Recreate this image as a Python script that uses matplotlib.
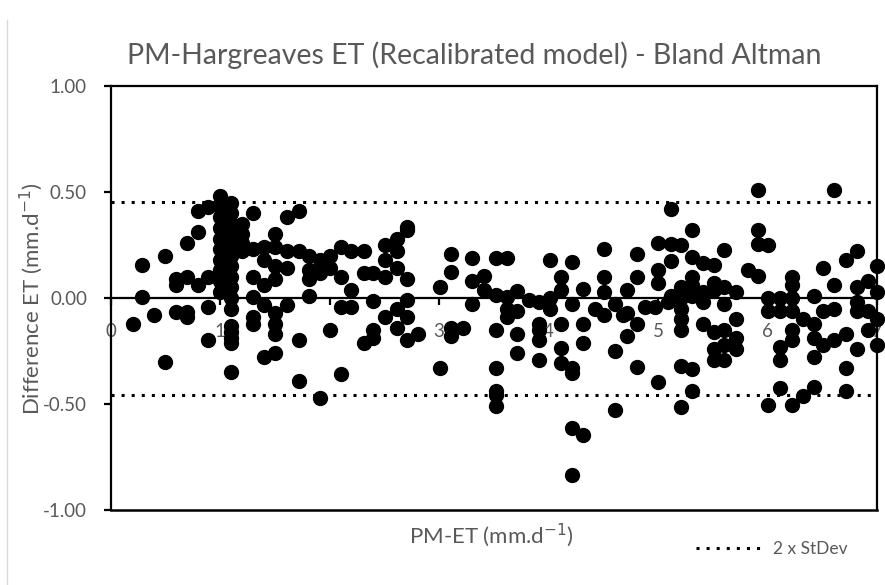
import matplotlib
matplotlib.use("Agg")
import matplotlib.pyplot as plt
from matplotlib.lines import Line2D

plt.rcParams['font.family'] = ['Lato', 'DejaVu Sans']

# ---- data: PM-ET (x) and difference ET (y), grouped by column ----
pm_et = [
    0.20,
    0.29, 0.29,
    0.40,
    0.50, 0.50,
    0.60, 0.60, 0.60,
    0.70, 0.70, 0.70, 0.70,
    0.80, 0.80, 0.80,
    0.89, 0.89, 0.89, 0.89,
    1.00, 1.00, 1.00, 1.00, 1.00, 1.00, 1.00, 1.00, 1.00, 1.00,
    1.10, 1.10, 1.10, 1.10, 1.10, 1.10, 1.10, 1.10, 1.10, 1.10, 1.10, 1.10, 1.10, 1.10, 1.10, 1.10,
    1.20, 1.20, 1.20, 1.20,
    1.30, 1.30, 1.30, 1.30, 1.30, 1.30,
    1.40, 1.40, 1.40, 1.40, 1.40,
    1.50, 1.50, 1.50, 1.50, 1.50, 1.50, 1.50, 1.50,
    1.61, 1.61, 1.61, 1.61,
    1.72, 1.72, 1.72, 1.72,
    1.81, 1.81, 1.81, 1.81,
    1.91, 1.91, 1.91,
    2.00, 2.00, 2.00,
    2.10, 2.10, 2.10, 2.10,
    2.20, 2.20, 2.20,
    2.31, 2.31, 2.31,
    2.40, 2.40, 2.40, 2.40,
    2.51, 2.51, 2.51, 2.51,
    2.62, 2.62, 2.62, 2.62, 2.62,
    2.71, 2.71, 2.71, 2.71, 2.71, 2.71,
    2.81,
    3.01, 3.01,
    3.11, 3.11, 3.11, 3.11,
    3.22,
    3.30, 3.30, 3.30,
    3.41, 3.41,
    3.52, 3.52, 3.52, 3.52, 3.52, 3.52, 3.52,
    3.62, 3.62, 3.62, 3.62,
    3.71, 3.71, 3.71, 3.71,
    3.82,
    3.91, 3.91, 3.91, 3.91, 3.91,
    4.01, 4.01, 4.01,
    4.11, 4.11, 4.11, 4.11, 4.11,
    4.21, 4.21, 4.21, 4.21, 4.21, 4.21,
    4.31, 4.31, 4.31, 4.31,
    4.42,
    4.51, 4.51, 4.51, 4.51,
    4.61, 4.61, 4.61,
    4.68,
    4.72, 4.72, 4.72,
    4.81, 4.81, 4.81, 4.81,
    4.88,
    4.97,
    5.00, 5.00, 5.00, 5.00,
    5.09,
    5.12, 5.12, 5.12, 5.12,
    5.21, 5.21, 5.21, 5.21, 5.21, 5.21, 5.21, 5.21, 5.21,
    5.31, 5.31, 5.31, 5.31, 5.31, 5.31, 5.31,
    5.41, 5.41, 5.41, 5.41,
    5.51, 5.51, 5.51, 5.51, 5.51, 5.51,
    5.60, 5.60, 5.60, 5.60, 5.60, 5.60,
    5.71, 5.71, 5.71, 5.71,
    5.82,
    5.91, 5.91, 5.91, 5.91,
    6.00, 6.00, 6.00, 6.00,
    6.11, 6.11, 6.11, 6.11, 6.11,
    6.22, 6.22, 6.22, 6.22, 6.22, 6.22, 6.22,
    6.32, 6.32,
    6.42, 6.42, 6.42, 6.42, 6.42,
    6.51, 6.51, 6.51,
    6.61, 6.61, 6.61, 6.61,
    6.72, 6.72, 6.72, 6.72,
    6.82, 6.82, 6.82, 6.82, 6.82,
    6.92, 6.92, 6.92,
    7.00, 7.00, 7.00, 7.00,
]
diff_et = [
    -0.12,
    0.155, 0.005,
    -0.08,
    0.20, -0.30,
    0.09, 0.06, -0.065,
    0.26, 0.10, -0.065, -0.09,
    0.41, 0.31, 0.06,
    0.43, 0.10, -0.04, -0.20,
    0.48, 0.43, 0.38, 0.33, 0.28, 0.23, 0.18, 0.13, 0.08, 0.03,
    0.45, 0.40, 0.35, 0.30, 0.25, 0.20, 0.15, 0.10, 0.05, 0.00, -0.05, -0.13, -0.16, -0.19, -0.21, -0.35,
    0.35, 0.30, 0.26, 0.22,
    0.40, 0.23, 0.10, 0.005, -0.09, -0.12,
    0.24, 0.18, 0.06, -0.035, -0.28,
    0.30, 0.24, 0.15, 0.09, -0.07, -0.12, -0.17, -0.26,
    0.38, 0.22, 0.14, -0.035,
    0.41, 0.22, -0.20, -0.39,
    0.20, 0.13, 0.09, 0.008,
    0.18, 0.12, -0.47,
    0.20, 0.14, -0.15,
    0.24, 0.10, -0.04, -0.36,
    0.22, 0.04, -0.04,
    0.22, 0.12, -0.21,
    0.12, -0.015, -0.15, -0.19,
    0.25, 0.18, 0.10, -0.09,
    0.28, 0.22, 0.14, -0.05, -0.14,
    0.335, 0.32, 0.09, -0.01, -0.09, -0.20,
    -0.17,
    0.05, -0.33,
    0.21, 0.125, -0.14, -0.18,
    -0.14,
    0.19, 0.08, -0.03,
    0.105, 0.04,
    0.19, 0.015, -0.15, -0.33, -0.44, -0.455, -0.51,
    0.19, 0.005, -0.05, -0.09,
    0.035, -0.06, -0.17, -0.26,
    -0.01,
    -0.02, -0.12, -0.15, -0.20, -0.29,
    0.18, 0.00, -0.05,
    0.10, 0.04, -0.12, -0.235, -0.305,
    0.17, -0.03, -0.33, -0.355, -0.615, -0.835,
    0.045, -0.12, -0.21, -0.646,
    -0.05,
    0.23, 0.10, 0.03, -0.08,
    -0.03, -0.25, -0.528,
    -0.08,
    0.04, -0.07, -0.18,
    0.21, 0.10, -0.12, -0.324,
    -0.04,
    -0.04,
    0.258, 0.13, 0.07, -0.395,
    -0.02,
    0.418, 0.255, 0.175, 0.01,
    0.25, 0.05, 0.04, 0.00, -0.05, -0.10, -0.15, -0.32, -0.513,
    0.32, 0.195, 0.10, 0.06, 0.01, -0.335, -0.44,
    0.163, 0.03, -0.02, -0.12,
    0.155, 0.07, 0.04, -0.16, -0.24, -0.29,
    0.226, 0.05, -0.03, -0.15, -0.22, -0.29,
    0.03, -0.10, -0.19, -0.24,
    0.13,
    0.51, 0.32, 0.255, 0.105,
    0.25, 0.00, -0.06, -0.505,
    0.00, -0.06, -0.23, -0.29, -0.426,
    0.10, 0.06, 0.00, -0.06, -0.15, -0.20, -0.505,
    -0.10, -0.46,
    0.01, -0.12, -0.19, -0.28, -0.418,
    0.14, -0.06, -0.22,
    0.51, 0.06, -0.05, -0.20,
    0.18, -0.17, -0.33, -0.44,
    0.22, 0.05, -0.02, -0.06, -0.24,
    0.08, -0.06, -0.15,
    0.15, 0.03, -0.10, -0.22,
]
upper_loa = 0.455
lower_loa = -0.457

title = "PM-Hargreaves ET (Recalibrated model) - Bland Altman"
xlabel = "PM-ET (mm.d$^{-1}$)"
ylabel = "Difference ET (mm.d$^{-1}$)"
yticks = [-1.0, -0.5, 0.0, 0.5, 1.0]
xticks = [0, 1, 2, 3, 4, 5, 6, 7]
legend_label = "2 x StDev"

grey = "#595959"

fig = plt.figure(figsize=(8.85, 5.85), dpi=100)
ax = fig.add_axes([0.125, 0.128, 0.866, 0.725])

ax.plot(pm_et, diff_et, 'o', color='black', markersize=10, clip_on=False, zorder=3)

dots = (0, (1, 2.3))
ax.plot([0, 7], [upper_loa, upper_loa], color='black', lw=2.2, linestyle=dots,
        label=legend_label, zorder=2)
ax.plot([0, 7], [lower_loa, lower_loa], color='black', lw=2.2, linestyle=dots, zorder=2)

ax.set_xlim(0, 7)
ax.set_ylim(-1, 1)

for s in ['left', 'right', 'top']:
    ax.spines[s].set_color('black')
    ax.spines[s].set_linewidth(1.6)
ax.spines['bottom'].set_position(('data', 0))
ax.spines['bottom'].set_linewidth(1.6)
ax.axhline(-1, color='black', lw=1.8, clip_on=False)

ax.set_yticks(yticks)
ax.set_yticklabels([f"{v:.2f}" for v in yticks])
ax.set_xticks(xticks)
ax.set_xticklabels([str(v) for v in xticks])
ax.tick_params(axis='y', direction='out', length=5, width=1.6, colors='black',
               labelcolor=grey, labelsize=13.5, pad=12)
ax.tick_params(axis='x', direction='out', length=5, width=1.6, colors='black',
               labelcolor=grey, labelsize=13.5, pad=13)

fig.text(0.536, 0.905, title, ha='center', va='center', fontsize=20.5, color=grey)
fig.text(0.555, 0.085, xlabel, ha='center', va='center', fontsize=16, color=grey)
fig.text(0.035, 0.49, ylabel, ha='center', va='center', fontsize=16, color=grey,
         rotation=90)

fig.legend(loc='center right', bbox_to_anchor=(0.975, 0.062), frameon=False,
           fontsize=12.5, handlelength=3.9, labelcolor=grey, handletextpad=0.5)

fig.add_artist(Line2D([0.008, 0.008], [0.0, 0.965], color='#d9d9d9', lw=1))

fig.savefig("out.png", dpi=100)
